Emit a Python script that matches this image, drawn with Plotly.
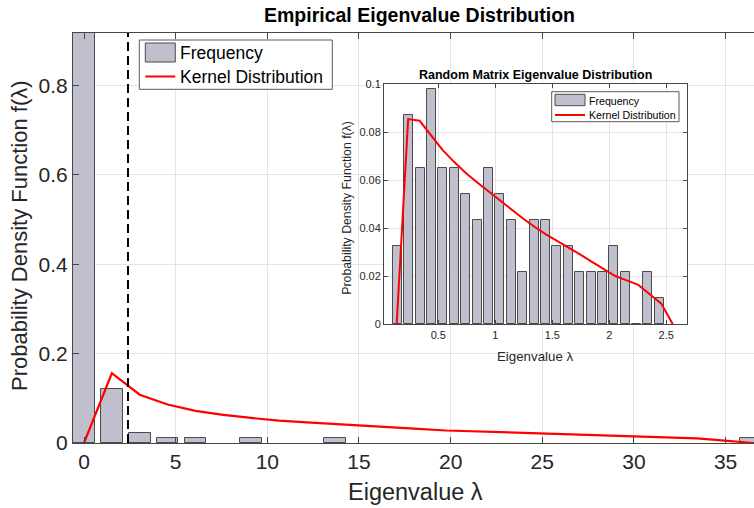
import plotly.graph_objects as go

# ---------------- data ----------------
# main histogram (bin centres and normalised heights)
main_bin_centers = [0.0, 1.52, 3.04, 4.56, 6.08, 9.12, 13.68, 36.4]
main_bin_heights = [0.95, 0.12, 0.022, 0.011, 0.011, 0.011, 0.011, 0.011]

# main kernel density estimate
main_kde_x = [0.0, 1.52, 3.04, 4.56, 6.08, 7.6, 9.12, 10.64, 12.16, 13.68, 15.2,
              16.72, 18.24, 19.76, 21.28, 22.8, 24.32, 25.84, 27.36, 28.88, 30.4,
              31.92, 33.44, 34.96, 36.48]
main_kde_y = [0.0, 0.156, 0.108, 0.086, 0.072, 0.063, 0.056, 0.050, 0.046, 0.042, 0.038,
              0.0345, 0.0315, 0.028, 0.026, 0.024, 0.0225, 0.0205, 0.019, 0.017, 0.015,
              0.013, 0.0105, 0.0055, 0.0]

threshold_lambda = 2.4

# inset histogram
inset_bin_centers = [0.14, 0.24, 0.34, 0.44, 0.54, 0.64, 0.74, 0.84, 0.94, 1.04, 1.14, 1.24,
                     1.34, 1.44, 1.54, 1.64, 1.74, 1.84, 1.94, 2.04, 2.14, 2.24, 2.34, 2.44]
inset_bin_heights = [0.0326, 0.087, 0.0652, 0.0978, 0.0652, 0.0652, 0.0543, 0.0435, 0.0652,
                     0.0543, 0.0435, 0.0217, 0.0435, 0.0435, 0.0326, 0.0326, 0.0217, 0.0217,
                     0.0217, 0.0326, 0.0217, 0.0, 0.0217, 0.0109]

# inset kernel density estimate
inset_kde_x = [0.134, 0.235, 0.336, 0.437, 0.538, 0.640, 0.741, 0.842, 0.943, 1.044, 1.145,
               1.246, 1.347, 1.448, 1.549, 1.650, 1.751, 1.852, 1.952, 2.053, 2.154, 2.255,
               2.356, 2.457, 2.558]
inset_kde_y = [0.0, 0.0854, 0.0847, 0.0785, 0.0725, 0.0675, 0.0630, 0.0590, 0.0552, 0.0513,
               0.0476, 0.0439, 0.0405, 0.0373, 0.0345, 0.0318, 0.0289, 0.0259, 0.0229, 0.0201,
               0.0183, 0.0164, 0.0125, 0.0086, 0.0]

main_xticks = [0, 5, 10, 15, 20, 25, 30, 35]
main_yticks = [0, 0.2, 0.4, 0.6, 0.8]
main_ytick_labels = ["0", "0.2", "0.4", "0.6", "0.8"]
inset_xticks = [0.5, 1, 1.5, 2, 2.5]
inset_yticks = [0, 0.02, 0.04, 0.06, 0.08, 0.1]
inset_ytick_labels = ["0", "0.02", "0.04", "0.06", "0.08", "0.1"]

# ---------------- styling ----------------
W, H = 754, 508
FONT = "Liberation Sans, Arial, Helvetica, sans-serif"
BAR_FILL = "rgb(191,191,205)"
BAR_EDGE = "rgb(75,75,75)"
AXCOL = "rgb(70,70,70)"
GRID = "rgb(228,228,228)"
TXT = "rgb(38,38,38)"


def px(x):
    return x / W


def py(y):
    return 1 - y / H


fig = go.Figure()

fig.add_trace(go.Bar(x=main_bin_centers, y=main_bin_heights, width=1.18,
                     marker=dict(color=BAR_FILL, line=dict(color=BAR_EDGE, width=1)),
                     xaxis="x", yaxis="y", showlegend=False))
fig.add_trace(go.Scatter(x=main_kde_x, y=main_kde_y, mode="lines",
                         line=dict(color="rgb(255,0,0)", width=2.2),
                         xaxis="x", yaxis="y", showlegend=False))
fig.add_trace(go.Scatter(x=[threshold_lambda, threshold_lambda], y=[0, 0.917], mode="lines",
                         line=dict(color="black", width=2, dash="9px,5px"),
                         xaxis="x", yaxis="y", showlegend=False))

fig.add_trace(go.Bar(x=inset_bin_centers, y=inset_bin_heights, width=0.079,
                     marker=dict(color=BAR_FILL, line=dict(color=BAR_EDGE, width=1)),
                     xaxis="x2", yaxis="y2", showlegend=False))
fig.add_trace(go.Scatter(x=inset_kde_x, y=inset_kde_y, mode="lines",
                         line=dict(color="rgb(255,0,0)", width=2),
                         xaxis="x2", yaxis="y2", showlegend=False))

main_ax = dict(showline=True, linecolor=AXCOL, linewidth=1, ticks="inside",
               tickcolor=AXCOL, ticklen=6, showgrid=True, gridcolor=GRID,
               zeroline=False, automargin=False,
               tickfont=dict(family=FONT, size=21, color=TXT))
inset_ax = dict(showline=True, linecolor=AXCOL, linewidth=1, ticks="inside",
                tickcolor=AXCOL, ticklen=4, showgrid=True, gridcolor=GRID,
                zeroline=False, mirror="ticks", automargin=False,
                tickfont=dict(family=FONT, size=11, color=TXT))

fig.update_layout(
    width=W, height=H, autosize=False,
    margin=dict(l=0, r=0, t=0, b=0, pad=0),
    paper_bgcolor="white", plot_bgcolor="white",
    bargap=0, showlegend=False,
    xaxis=dict(**main_ax, domain=[px(73), 1.0], range=[-0.6, 36.55],
               tickvals=main_xticks, mirror="ticks", anchor="y"),
    yaxis=dict(**main_ax, domain=[py(443), py(33)], range=[0, 0.917],
               tickvals=main_yticks, ticktext=main_ytick_labels, anchor="x"),
    xaxis2=dict(**inset_ax, domain=[px(384), px(686.7)], range=[0.023, 2.68],
                tickvals=inset_xticks, anchor="y2"),
    yaxis2=dict(**inset_ax, domain=[py(324.3), py(84)], range=[0, 0.1],
                tickvals=inset_yticks, ticktext=inset_ytick_labels, anchor="x2"),
)

annotations = [
    dict(text="<b>Empirical Eigenvalue Distribution</b>", x=px(419), y=py(15),
         font=dict(family=FONT, size=19.5, color="black")),
    dict(text="Eigenvalue λ", x=px(415), y=py(492),
         font=dict(family=FONT, size=23.5, color=TXT)),
    dict(text="Probability Density Function f(λ)", x=px(19), y=py(236), textangle=-90,
         font=dict(family=FONT, size=22, color=TXT)),
    dict(text="<b>Random Matrix Eigenvalue Distribution</b>", x=px(535), y=py(75),
         font=dict(family=FONT, size=12.5, color="black")),
    dict(text="Eigenvalue λ", x=px(535), y=py(356),
         font=dict(family=FONT, size=13.3, color=TXT)),
    dict(text="Probability Density Function f(λ)", x=px(346.7), y=py(208), textangle=-90,
         font=dict(family=FONT, size=12.3, color=TXT)),
    # main legend
    dict(text="Frequency", x=px(178), y=py(53), xanchor="left",
         font=dict(family=FONT, size=17.5, color="black")),
    dict(text="Kernel Distribution", x=px(178), y=py(77), xanchor="left",
         font=dict(family=FONT, size=17.5, color="black")),
    # inset legend
    dict(text="Frequency", x=px(586.5), y=py(101), xanchor="left",
         font=dict(family=FONT, size=10.6, color="black")),
    dict(text="Kernel Distribution", x=px(586.5), y=py(115), xanchor="left",
         font=dict(family=FONT, size=10.6, color="black")),
]
for a in annotations:
    a.setdefault("xanchor", "center")
    a.update(xref="paper", yref="paper", yanchor="middle", showarrow=False)
fig.update_layout(annotations=annotations)

shapes = [
    # main legend box
    dict(type="rect", x0=px(139.3), x1=px(332.3), y0=py(89.3), y1=py(40),
         fillcolor="white", line=dict(color="rgb(90,90,90)", width=1)),
    dict(type="rect", x0=px(145.3), x1=px(175.3), y0=py(62), y1=py(43),
         fillcolor=BAR_FILL, line=dict(color=BAR_EDGE, width=1)),
    dict(type="line", x0=px(145.3), x1=px(175.3), y0=py(76.5), y1=py(76.5),
         line=dict(color="rgb(255,0,0)", width=2)),
    # inset legend box
    dict(type="rect", x0=px(551.7), x1=px(679), y0=py(121.7), y1=py(91.7),
         fillcolor="white", line=dict(color="rgb(90,90,90)", width=1)),
    dict(type="rect", x0=px(555), x1=px(585), y0=py(105.7), y1=py(94.3),
         fillcolor=BAR_FILL, line=dict(color=BAR_EDGE, width=1)),
    dict(type="line", x0=px(555), x1=px(585), y0=py(115), y1=py(115),
         line=dict(color="rgb(255,0,0)", width=2)),
]
for s in shapes:
    s.update(xref="paper", yref="paper")
fig.update_layout(shapes=shapes)

page_css = ("document.documentElement.style.margin='0';document.body.style.margin='0';"
            "document.documentElement.style.overflow='hidden';document.body.style.overflow='hidden';")
fig.write_html("out.html", post_script=page_css, config={"displayModeBar": False})
